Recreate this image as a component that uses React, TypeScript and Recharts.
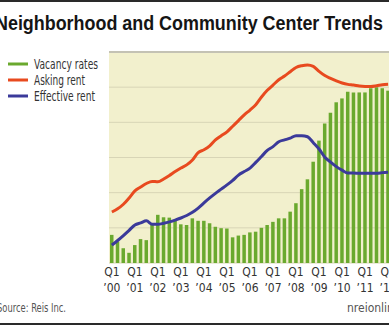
import { ComposedChart, Bar, Line, XAxis, YAxis, CartesianGrid, Legend, ReferenceLine } from 'recharts'

const years = ['00', '01', '02', '03', '04', '05', '06', '07', '08', '09', '10', '11', '12']
const quarters = years.flatMap((y) => ['Q1', 'Q2', 'Q3', 'Q4'].map((q) => `${q} ’${y}`)).slice(0, 49)

// vacancy rate bars (grid units, 0-6)
const vacancy = [
  0.80, 0.61, 0.42, 0.29, 0.51, 0.68, 0.65, 1.10,
  1.37, 1.30, 1.29, 1.22, 1.10, 1.08, 1.27, 1.20,
  1.20, 1.13, 1.03, 0.99, 0.98, 0.73, 0.78, 0.80,
  0.87, 0.89, 1.00, 1.08, 1.17, 1.27, 1.27, 1.46,
  1.70, 2.10, 2.38, 2.88, 3.48, 3.97, 4.27, 4.57,
  4.68, 4.87, 4.85, 4.85, 4.85, 4.97, 5.00, 4.97, 4.90,
]

const asking = [
  1.45, 1.54, 1.67, 1.85, 2.05, 2.16, 2.26, 2.32,
  2.31, 2.39, 2.49, 2.60, 2.70, 2.79, 2.93, 3.14,
  3.22, 3.33, 3.50, 3.62, 3.73, 3.89, 4.05, 4.21,
  4.35, 4.50, 4.72, 4.91, 5.06, 5.21, 5.32, 5.44,
  5.56, 5.61, 5.63, 5.59, 5.45, 5.33, 5.25, 5.18,
  5.12, 5.08, 5.06, 5.03, 5.02, 5.02, 5.04, 5.07, 5.08,
]

const effective = [
  0.51, 0.64, 0.78, 0.93, 1.08, 1.14, 1.20, 1.10,
  1.10, 1.13, 1.17, 1.22, 1.28, 1.35, 1.44, 1.56,
  1.71, 1.85, 1.98, 2.10, 2.22, 2.35, 2.50, 2.60,
  2.70, 2.86, 3.03, 3.20, 3.31, 3.45, 3.50, 3.55,
  3.62, 3.62, 3.59, 3.42, 3.24, 3.01, 2.87, 2.74,
  2.64, 2.56, 2.56, 2.55, 2.55, 2.55, 2.55, 2.57, 2.58,
]

const q1Ticks = quarters.filter((q) => q.startsWith('Q1'))

const data = quarters.map((q, i) => ({
  q,
  vacancy: vacancy[i],
  asking: asking[i],
  effective: effective[i],
}))

const GREEN = '#6aa92e'
const ORANGE = '#e84a1f'
const BLUE = '#3b3a9a'
const FONT = '"Liberation Sans Narrow", "DejaVu Sans Condensed", Roboto, sans-serif'

const legendItems = [
  { label: 'Vacancy rates', color: GREEN, width: 64 },
  { label: 'Asking rent', color: ORANGE, width: 51 },
  { label: 'Effective rent', color: BLUE, width: 61 },
]

function QuarterTick(props: any) {
  const { x, y, payload } = props
  const [q, yr] = String(payload.value).split(' ')
  return (
    <g>
      <text x={x} y={y + 13} textAnchor="middle" fontSize={12} fill="#333" fontFamily={FONT}>{q}</text>
      <text x={x} y={y + 29} textAnchor="middle" fontSize={12} fill="#333" fontFamily={FONT}>{yr}</text>
    </g>
  )
}

function LegendBox() {
  return (
    <svg width={110} height={52} style={{ overflow: 'visible' }}>
      {legendItems.map((it, i) => (
        <g key={it.label}>
          <line x1={0} x2={20} y1={6 + i * 16} y2={6 + i * 16} stroke={it.color} strokeWidth={3} />
          <text x={26} y={11 + i * 16} fontSize={14} fill="#333" fontFamily={FONT}
            textLength={it.width} lengthAdjust="spacingAndGlyphs">{it.label}</text>
        </g>
      ))}
    </svg>
  )
}

export default function App() {
  return (
    <div style={{ position: 'absolute', left: 0, top: 0, width: 389, height: 325, overflow: 'hidden', background: '#fff' }}>
      <svg width={389} height={50} style={{ position: 'absolute', left: 0, top: 0 }}>
        <rect x={0} y={0} width={389} height={2} fill="#2a2a2a" />
        <text x={-5} y={30} fontSize={20} fontWeight="bold" fill="#151515" fontFamily="'Liberation Sans', Arial, sans-serif"
          textLength={388} lengthAdjust="spacingAndGlyphs">Neighborhood and Community Center Trends</text>
      </svg>
      <div style={{ position: 'absolute', left: -21, top: 0 }}>
        <ComposedChart width={433} height={325} data={data} margin={{ top: 52, right: 21, bottom: 0, left: 20 }}>
          <CartesianGrid vertical={false} stroke="#d8d5b6" strokeWidth={1} fill="#f2f0cd" fillOpacity={1} />
          <XAxis dataKey="q" ticks={q1Ticks} interval={0} height={62} axisLine={false} tickLine={false}
            tickSize={0} tickMargin={0} tick={<QuarterTick />} />
          <YAxis hide domain={[0, 6]} ticks={[0, 1, 2, 3, 4, 5, 6]} />
          <ReferenceLine y={6} stroke="#c4c2b4" strokeWidth={2} />
          <Bar dataKey="vacancy" fill={GREEN} barSize={3.5} isAnimationActive={false} />
          <Line type="monotone" dataKey="asking" stroke={ORANGE} strokeWidth={3} dot={false} isAnimationActive={false} />
          <Line type="monotone" dataKey="effective" stroke={BLUE} strokeWidth={3} dot={false} isAnimationActive={false} />
          <Legend content={<LegendBox />} layout="vertical" verticalAlign="top" align="left"
            wrapperStyle={{ left: 29, top: 58, width: 110 }} />
        </ComposedChart>
      </div>
      <svg width={389} height={30} style={{ position: 'absolute', left: 0, top: 295 }}>
        <text x={-3} y={17} fontSize={12} fill="#555" fontFamily={FONT} textLength={69} lengthAdjust="spacingAndGlyphs">Source: Reis Inc.</text>
        <text x={347} y={17} fontSize={12} fill="#555" fontFamily={FONT}>nreionline.com</text>
        <rect x={0} y={28} width={389} height={2} fill="#2a2a2a" />
      </svg>
    </div>
  )
}
